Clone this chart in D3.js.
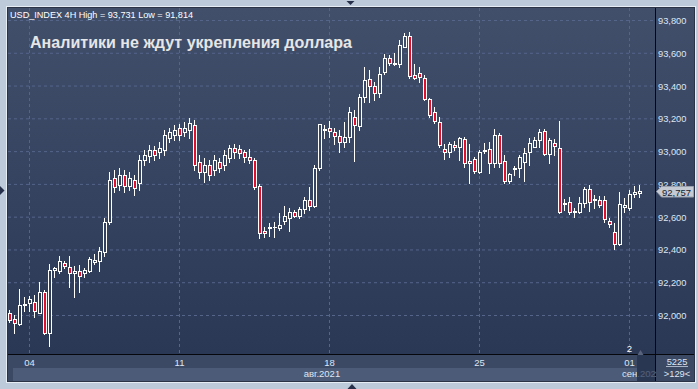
<!DOCTYPE html>
<html>
<head>
<meta charset="utf-8">
<script src="https://cdn.jsdelivr.net/npm/d3@7"></script>
<style>
html, body { margin: 0; padding: 0; background: #bdcad9; }
svg { display: block; font-family: "Liberation Sans", Arial, sans-serif; }
</style>
</head>
<body>
<svg id="chart" width="698" height="389"></svg>
<script>
// USD_INDEX, 4H candles, 3 Aug - 1 Sep 2021
var opens = [92.018,91.981,91.949,92.065,92.077,92.083,92.018,92.144,91.894,92.278,92.272,92.321,92.296,92.260,92.272,92.260,92.272,92.327,92.333,92.388,
    92.571,92.839,92.797,92.858,92.790,92.827,92.809,92.949,92.973,93.010,92.998,93.010,93.083,93.102,93.144,93.120,93.132,93.163,92.937,92.876,
    92.919,92.888,92.937,92.919,92.961,93.022,93.016,92.998,92.967,92.949,92.790,92.518,92.531,92.537,92.534,92.579,92.597,92.630,92.609,92.648,
    92.705,92.668,92.898,93.133,93.144,93.118,93.094,93.061,93.087,93.209,93.156,93.335,93.441,93.402,93.356,93.488,93.569,93.536,93.533,93.640,
    93.705,93.466,93.478,93.447,93.319,93.244,93.183,93.014,92.996,93.039,93.027,93.075,92.943,92.953,92.878,93.003,93.014,92.929,93.102,92.945,
    92.823,92.895,92.898,92.939,92.999,93.030,93.071,93.128,92.986,93.051,93.024,92.678,92.695,92.631,92.634,92.685,92.770,92.702,92.705,92.705,
    92.579,92.508,92.437,92.660,92.654,92.742,92.750];
var highs = [92.034,92.004,92.162,92.113,92.119,92.125,92.205,92.156,92.315,92.296,92.363,92.333,92.363,92.303,92.309,92.290,92.357,92.376,92.418,92.595,
    92.876,92.888,92.900,92.888,92.876,92.858,92.980,93.010,93.040,93.034,93.059,93.132,93.144,93.163,93.169,93.181,93.205,93.193,92.980,92.961,
    92.949,92.980,92.961,93.010,93.040,93.047,93.040,93.010,93.016,92.961,92.803,92.542,92.565,92.571,92.626,92.668,92.656,92.644,92.664,92.723,
    92.784,92.919,93.170,93.163,93.189,93.144,93.132,93.181,93.274,93.254,93.352,93.514,93.498,93.427,93.518,93.596,93.590,93.604,93.681,93.726,
    93.731,93.535,93.518,93.467,93.327,93.270,93.213,93.047,93.061,93.067,93.091,93.087,93.047,92.969,93.010,93.055,93.061,93.136,93.116,92.980,
    92.872,92.912,92.980,93.020,93.081,93.087,93.138,93.136,93.081,93.075,93.187,92.709,92.721,92.654,92.725,92.782,92.797,92.736,92.729,92.731,
    92.593,92.563,92.756,92.715,92.766,92.790,92.797];
var lows = [91.961,91.896,91.943,92.028,92.028,91.991,92.016,91.888,91.814,92.235,92.260,92.290,92.174,92.113,92.144,92.235,92.266,92.315,92.272,92.363,
    92.559,92.754,92.766,92.754,92.766,92.736,92.766,92.919,92.937,92.949,92.961,92.980,93.059,93.071,93.071,93.096,93.083,92.888,92.839,92.815,
    92.827,92.858,92.876,92.888,92.937,92.961,92.961,92.937,92.931,92.772,92.473,92.481,92.485,92.479,92.522,92.559,92.518,92.601,92.595,92.628,
    92.644,92.664,92.888,93.083,93.091,93.047,92.999,93.030,93.061,92.945,93.132,93.305,93.305,93.315,93.331,93.474,93.529,93.529,93.518,93.636,
    93.447,93.441,93.427,93.315,93.213,93.173,93.030,92.953,92.965,93.010,92.949,92.908,92.807,92.872,92.868,92.990,92.872,92.908,92.908,92.807,
    92.811,92.858,92.847,92.823,92.919,93.026,93.030,92.980,92.932,92.980,92.628,92.644,92.620,92.599,92.628,92.660,92.640,92.654,92.662,92.573,
    92.542,92.404,92.431,92.634,92.644,92.725,92.721];
var closes = [91.973,91.953,92.063,92.071,92.101,92.028,92.144,91.894,92.278,92.290,92.333,92.303,92.260,92.272,92.241,92.278,92.345,92.339,92.394,92.571,
    92.827,92.784,92.858,92.790,92.839,92.778,92.949,92.980,93.010,92.980,93.022,93.102,93.120,93.132,93.102,93.144,93.175,92.919,92.876,92.919,
    92.858,92.949,92.900,92.980,93.022,92.998,92.992,92.967,92.949,92.786,92.506,92.502,92.537,92.543,92.554,92.607,92.630,92.609,92.650,92.705,
    92.670,92.900,93.167,93.139,93.128,93.094,93.061,93.087,93.240,93.161,93.335,93.437,93.400,93.360,93.474,93.569,93.539,93.542,93.650,93.705,
    93.461,93.449,93.457,93.319,93.222,93.187,93.040,92.999,93.045,93.027,93.081,92.929,92.929,92.884,92.998,93.009,92.932,93.102,92.929,92.823,
    92.864,92.901,92.965,92.994,93.055,93.071,93.122,92.986,93.071,93.034,92.634,92.684,92.634,92.637,92.689,92.774,92.695,92.708,92.675,92.587,
    92.559,92.437,92.681,92.675,92.742,92.752,92.757];

var priceTicks = [92.0, 92.2, 92.4, 92.6, 92.8, 93.0, 93.2, 93.4, 93.6, 93.8];
var dayTickIdx = [4, 34, 64, 94, 124];
var dayTickLabels = ["04", "11", "18", "25", "01"];
var lastPrice = 92.757;
var headerText = "USD_INDEX 4H High = 93,731 Low = 91,814";
var titleText = "Аналитики не ждут укрепления доллара";

var bars = opens.map(function (o, i) {
    return { i: i, o: o, h: highs[i], l: lows[i], c: closes[i] };
});

var svg = d3.select("#chart");
var plotLeft = 8, plotTop = 8, plotRight = 655, plotBottom = 354,
    frameRight = 694, frameBottom = 381;

var x = d3.scaleLinear().domain([0, 126]).range([9.5, 639.5]);
var y = d3.scaleLinear().domain([92.0, 93.8]).range([315.5, 20.5]);
var ru = d3.formatLocale({ decimal: ",", thousands: " ", grouping: [3], currency: ["", ""] });
var fmt = ru.format(".3f");

var defs = svg.append("defs");
var grad = defs.append("linearGradient").attr("id", "bg")
    .attr("x1", 0).attr("y1", 0).attr("x2", 0).attr("y2", 1);
grad.append("stop").attr("offset", "0%").attr("stop-color", "#414f6b");
grad.append("stop").attr("offset", "100%").attr("stop-color", "#2a3856");
defs.append("clipPath").attr("id", "plotClip").append("rect")
    .attr("x", plotLeft).attr("y", plotTop)
    .attr("width", plotRight - plotLeft).attr("height", plotBottom - plotTop);

// frame + panels
svg.append("rect").attr("x", 6.5).attr("y", 6.5)
    .attr("width", frameRight - 5).attr("height", frameBottom - 5)
    .attr("fill", "none").attr("stroke", "#e6edf5");
svg.append("rect").attr("x", plotLeft).attr("y", plotTop)
    .attr("width", frameRight - plotLeft).attr("height", plotBottom - plotTop)
    .attr("fill", "url(#bg)");
svg.append("rect").attr("x", plotLeft).attr("y", plotBottom)
    .attr("width", frameRight - plotLeft).attr("height", frameBottom - plotBottom)
    .attr("fill", "#3b4965");
svg.append("rect").attr("x", 13).attr("y", 368)
    .attr("width", 624).attr("height", frameBottom - 368)
    .attr("fill", "#4c5b77");

// grid
svg.append("g").selectAll("line").data(priceTicks).enter().append("line")
    .attr("x1", plotLeft).attr("x2", plotRight)
    .attr("y1", function (d) { return y(d); }).attr("y2", function (d) { return y(d); })
    .attr("stroke", "#55658a").attr("stroke-dasharray", "3,3");
svg.append("g").selectAll("line").data(dayTickIdx).enter().append("line")
    .attr("x1", function (d) { return x(d); }).attr("x2", function (d) { return x(d); })
    .attr("y1", plotTop).attr("y2", plotBottom)
    .attr("stroke", "#55658a").attr("stroke-dasharray", "3,3");

// candles
var candles = svg.append("g").attr("clip-path", "url(#plotClip)");
bars.forEach(function (b) {
    var px = Math.floor(x(b.i));
    var bull = b.c >= b.o;
    var yTop = Math.round(y(Math.max(b.o, b.c))),
        yBot = Math.round(y(Math.min(b.o, b.c))),
        yHi = Math.round(y(b.h)),
        yLo = Math.round(y(b.l));
    var bh = Math.max(1, yBot - yTop + 1);
    if (yTop > yHi) {
        candles.append("rect").attr("x", px).attr("y", yHi)
            .attr("width", 1).attr("height", yTop - yHi).attr("fill", "#ffffff");
    }
    if (yLo > yTop + bh - 1) {
        candles.append("rect").attr("x", px).attr("y", yTop + bh)
            .attr("width", 1).attr("height", yLo - (yTop + bh) + 1).attr("fill", "#ffffff");
    }
    candles.append("rect").attr("x", px - 1).attr("y", yTop)
        .attr("width", 4).attr("height", bh).attr("fill", "#ffffff");
    if (bh > 2) {
        candles.append("rect").attr("x", px).attr("y", yTop + 1)
            .attr("width", 2).attr("height", bh - 2)
            .attr("fill", bull ? "#33415f" : "#e0102c");
    }
});

// hollow bodies take the local background colour
candles.selectAll("rect").filter(function () { return d3.select(this).attr("fill") === "#33415f"; })
    .attr("fill", function () {
        var t = (+d3.select(this).attr("y") - plotTop) / (plotBottom - plotTop);
        return d3.interpolateRgb("#414f6b", "#2a3856")(t);
    });

// separators
svg.append("line").attr("x1", plotRight + 0.5).attr("x2", plotRight + 0.5)
    .attr("y1", plotTop).attr("y2", frameBottom).attr("stroke", "#05070c");
svg.append("line").attr("x1", plotLeft).attr("x2", frameRight)
    .attr("y1", plotBottom + 0.5).attr("y2", plotBottom + 0.5).attr("stroke", "#05070c");
svg.append("rect").attr("x", 7.5).attr("y", 7.5)
    .attr("width", frameRight - 7).attr("height", frameBottom - 7)
    .attr("fill", "none").attr("stroke", "#2b3446");

// price axis labels
svg.append("g").selectAll("text").data(priceTicks).enter().append("text")
    .attr("x", 658).attr("y", function (d) { return y(d) + 3.5; })
    .attr("font-size", "9.3px").attr("fill", "#dde6f3")
    .text(function (d) { return fmt(d); });

// last price tag
var ly = Math.round(y(lastPrice)) + 0.5;
svg.append("path")
    .attr("d", "M656.5," + ly + " L661.5," + (ly - 5) + " L693.5," + (ly - 5) +
        " L693.5," + (ly + 5.5) + " L661.5," + (ly + 5.5) + " Z")
    .attr("fill", "#c6cad2").attr("stroke", "#9aa1ae");
svg.append("text").attr("x", 662).attr("y", ly + 4)
    .attr("font-size", "9.5px").attr("fill", "#161c2a").text(fmt(lastPrice));

// date labels
svg.append("g").selectAll("text").data(dayTickIdx).enter().append("text")
    .attr("x", function (d) { return x(d); }).attr("y", 365.5)
    .attr("text-anchor", "middle").attr("font-size", "9.5px").attr("fill", "#dde6f3")
    .text(function (d, i) { return dayTickLabels[i]; });
svg.append("text").attr("x", 322).attr("y", 377).attr("text-anchor", "middle")
    .attr("font-size", "9.5px").attr("fill", "#dde6f3").text("авг.2021");
svg.append("text").attr("x", 622).attr("y", 377)
    .attr("font-size", "9.5px").attr("fill", "#dde6f3").text("сен.2021");
svg.append("text").attr("x", x(124)).attr("y", 352).attr("text-anchor", "middle")
    .attr("font-size", "9.5px").attr("fill", "#ffffff").text("2");

// scroll thumb
svg.append("rect").attr("x", 637).attr("y", plotBottom + 1)
    .attr("width", plotRight - 637).attr("height", frameBottom - plotBottom - 1)
    .attr("fill", "#26324d").attr("fill-opacity", 0.75);
svg.append("path").attr("d", "M637.5,355 L643.5,355 L640.5,350 Z").attr("fill", "#59647c");
svg.append("rect").attr("x", plotRight + 1).attr("y", plotBottom + 1)
    .attr("width", frameRight - plotRight - 1).attr("height", frameBottom - plotBottom - 1)
    .attr("fill", "#3b4965");

// bar counters
svg.append("text").attr("x", 677).attr("y", 364.7).attr("text-anchor", "middle")
    .attr("font-size", "9.3px").attr("fill", "#dde6f3").text("5225");
svg.append("line").attr("x1", 666).attr("x2", 688).attr("y1", 366.5).attr("y2", 366.5)
    .attr("stroke", "#aab6c8");
svg.append("text").attr("x", 677).attr("y", 377.3).attr("text-anchor", "middle")
    .attr("font-size", "9.3px").attr("fill", "#dde6f3").text(">129<");

// texts
svg.append("text").attr("x", 10).attr("y", 18.3)
    .attr("font-size", "9px").attr("fill", "#ffffff")
    .attr("textLength", 183).attr("lengthAdjust", "spacingAndGlyphs")
    .text(headerText);
svg.append("text").attr("x", 30).attr("y", 48.3)
    .attr("font-size", "16px").attr("font-weight", "bold").attr("fill", "#e6e6e6")
    .attr("textLength", 322).attr("lengthAdjust", "spacingAndGlyphs")
    .text(titleText);

// window scroll markers
svg.append("path").attr("d", "M346.5,1 L354.5,1 L350.5,5 Z").attr("fill", "#26304a");
svg.append("path").attr("d", "M347.5,389 L356.5,389 L352,384 Z").attr("fill", "#26304a");
svg.append("path").attr("d", "M0,186 L0,195 L4.5,190.5 Z").attr("fill", "#26304a");
</script>
</body>
</html>
